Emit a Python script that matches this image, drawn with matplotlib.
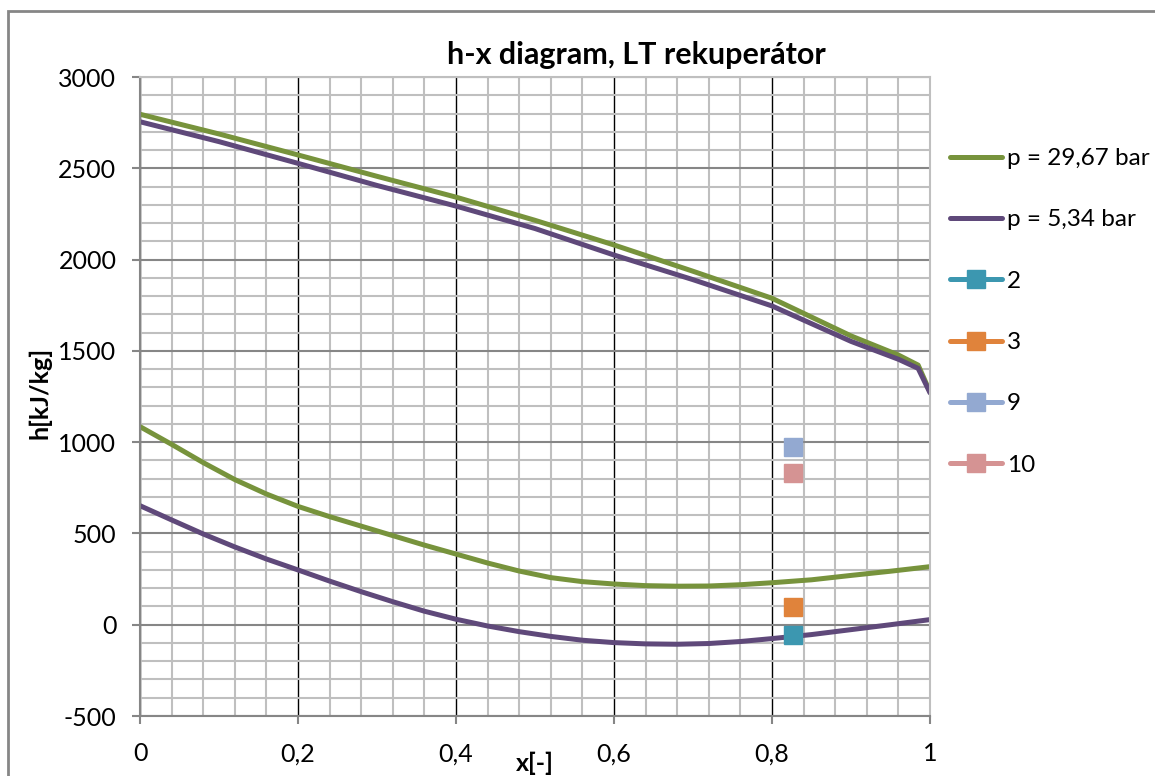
import numpy as np
import matplotlib.pyplot as plt
from matplotlib.patches import Rectangle
from matplotlib.ticker import MultipleLocator, FuncFormatter

plt.rcParams['font.family'] = ['Lato', 'DejaVu Sans']
plt.rcParams['axes.unicode_minus'] = False

# upper curves (dew lines)
x_up = [0, 0.1, 0.2, 0.3, 0.4, 0.5, 0.6, 0.7, 0.8, 0.9, 0.96, 0.985, 1.0]
h_up_hp = [2796, 2688, 2573, 2456, 2342, 2215, 2080, 1936, 1788, 1582, 1477, 1422, 1275]
h_up_lp = [2755, 2646, 2527, 2406, 2293, 2170, 2025, 1890, 1746, 1552, 1454, 1404, 1270]

# lower curves (bubble lines)
x_low = [0, 0.04, 0.08, 0.12, 0.16, 0.2, 0.24, 0.28, 0.32, 0.36, 0.4,
         0.44, 0.48, 0.52, 0.56, 0.6, 0.64, 0.68, 0.72, 0.76, 0.8,
         0.85, 0.9, 0.95, 1.0]
h_low_hp = [1085, 988, 888, 795, 716, 648, 592, 540, 488, 436, 387,
            338, 294, 258, 236, 223, 214, 211, 212, 219, 230,
            246, 270, 293, 318]
h_low_lp = [652, 574, 497, 426, 360, 300, 239, 181, 126, 74, 30,
            -7, -38, -64, -85, -98, -105, -107, -103, -92, -76,
            -54, -27, 0, 28]

# state points
pt_names = ['2', '3', '9', '10']
pt_x = [0.827, 0.827, 0.827, 0.827]
pt_h = [-57, 99, 975, 829]
pt_colors = ['#3C97B0', '#E0833B', '#93A9D1', '#D59393']

green = '#77933C'
purple = '#5F497A'

fig = plt.figure(figsize=(11.55, 7.76), dpi=100)
ax = fig.add_axes([140/1155, 1-716/776, 790/1155, 639/776])

ax.plot(x_up, h_up_hp, color=green, lw=3.6, label='p = 29,67 bar',
        solid_capstyle='round', solid_joinstyle='round')
ax.plot(x_up, h_up_lp, color=purple, lw=3.6, label='p = 5,34 bar',
        solid_capstyle='round', solid_joinstyle='round')
ax.plot(x_low, h_low_hp, color=green, lw=3.6, solid_capstyle='round', solid_joinstyle='round')
ax.plot(x_low, h_low_lp, color=purple, lw=3.6, solid_capstyle='round', solid_joinstyle='round')

for name, xx, hh, c in zip(pt_names, [[v] for v in pt_x], [[v] for v in pt_h], pt_colors):
    ax.plot(xx, hh, color=c, lw=3.6, marker='s', ms=12.5, label=name,
            solid_capstyle='round')

ax.set_xlim(0, 1)
ax.set_ylim(-500, 3000)
ax.xaxis.set_major_locator(MultipleLocator(0.2))
ax.xaxis.set_minor_locator(MultipleLocator(0.04))
ax.yaxis.set_major_locator(MultipleLocator(500))
ax.yaxis.set_minor_locator(MultipleLocator(100))
ax.xaxis.set_major_formatter(FuncFormatter(lambda v, p: ('%g' % round(v, 2)).replace('.', ',')))

ax.set_axisbelow(True)
ax.grid(which='minor', color='#BFBFBF', lw=1.5)
ax.grid(which='major', axis='y', color='#868686', lw=1.5)
ax.grid(which='major', axis='x', color='black', lw=1.0)

for s in ['top', 'right']:
    ax.spines[s].set_color('#BFBFBF')
    ax.spines[s].set_linewidth(1.5)
for s in ['left', 'bottom']:
    ax.spines[s].set_color('#868686')
    ax.spines[s].set_linewidth(1.5)

ax.tick_params(which='major', length=6, width=1.5, color='#868686', labelsize=18)
ax.tick_params(axis='x', pad=13)
ax.tick_params(axis='y', pad=11)
ax.tick_params(which='minor', length=0)

fig.text(535/1155, 1-763/776, 'x[-]', ha='center', va='center',
         fontsize=18, fontweight='bold')
fig.text(40/1155, 1-393/776, 'h[kJ/kg]', ha='center', va='center',
         rotation=90, fontsize=18, fontweight='bold')

fig.text(636/1155, 1-55/776, 'h-x diagram, LT rekuperátor', ha='center', va='center',
         fontsize=22, fontweight='bold')

leg = ax.legend(loc='upper left', bbox_to_anchor=(950/1155, 1-148/776),
                bbox_transform=fig.transFigure, frameon=False, fontsize=17.5,
                handlelength=2.15, handletextpad=0.18, labelspacing=1.66,
                numpoints=1, borderaxespad=0, borderpad=0)

fig.add_artist(Rectangle((8/1155, -0.2), 1.2, 0.2 + (776-11)/776,
                         transform=fig.transFigure, fill=False,
                         edgecolor='#868686', lw=2))

fig.savefig('out.png', dpi=100)
